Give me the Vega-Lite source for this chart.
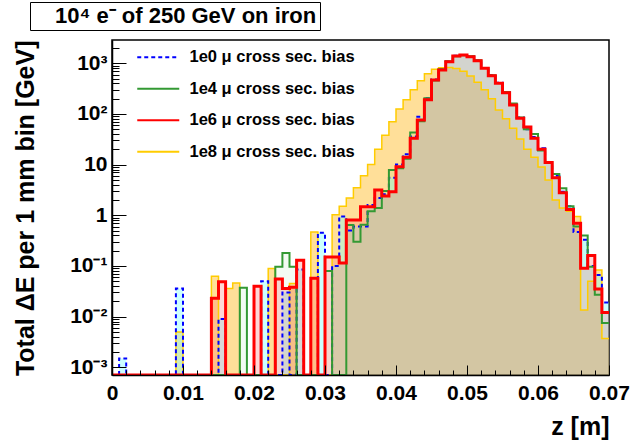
{
"$schema":"https://vega.github.io/schema/vega-lite/v6.json",
"width":497,"height":335,"autosize":"none",
"padding":{"left":112,"top":40,"right":31,"bottom":67},
"background":"white",
"config":{"view":{"stroke":"#000","strokeWidth":1.5},"font":"Liberation Sans"},
"datasets":{"h":[
{"s":"1e8","a":0,"b":0.001,"v":0.000705},{"s":"1e8","a":0.001,"b":0.002,"v":0.000705},{"s":"1e8","a":0.002,"b":0.003,"v":0.000705},{"s":"1e8","a":0.003,"b":0.004,"v":0.000705},{"s":"1e8","a":0.004,"b":0.005,"v":0.000705},{"s":"1e8","a":0.005,"b":0.006,"v":0.000705},{"s":"1e8","a":0.006,"b":0.007,"v":0.000705},{"s":"1e8","a":0.007,"b":0.008,"v":0.000705},{"s":"1e8","a":0.008,"b":0.009,"v":0.000705},{"s":"1e8","a":0.009,"b":0.01,"v":0.005},
{"s":"1e8","a":0.01,"b":0.011,"v":0.000705},{"s":"1e8","a":0.011,"b":0.012,"v":0.000705},{"s":"1e8","a":0.012,"b":0.013,"v":0.000705},{"s":"1e8","a":0.013,"b":0.014,"v":0.000705},{"s":"1e8","a":0.014,"b":0.015,"v":0.063},{"s":"1e8","a":0.015,"b":0.016,"v":0.000705},{"s":"1e8","a":0.016,"b":0.017,"v":0.036},{"s":"1e8","a":0.017,"b":0.018,"v":0.046},{"s":"1e8","a":0.018,"b":0.019,"v":0.000705},{"s":"1e8","a":0.019,"b":0.02,"v":0.000705},
{"s":"1e8","a":0.02,"b":0.021,"v":0.000705},{"s":"1e8","a":0.021,"b":0.022,"v":0.000705},{"s":"1e8","a":0.022,"b":0.023,"v":0.089},{"s":"1e8","a":0.023,"b":0.024,"v":0.000705},{"s":"1e8","a":0.024,"b":0.025,"v":0.000705},{"s":"1e8","a":0.025,"b":0.026,"v":0.045},{"s":"1e8","a":0.026,"b":0.027,"v":0.000705},{"s":"1e8","a":0.027,"b":0.028,"v":0.000705},{"s":"1e8","a":0.028,"b":0.029,"v":0.47},{"s":"1e8","a":0.029,"b":0.03,"v":0.000705},
{"s":"1e8","a":0.03,"b":0.031,"v":0.000705},{"s":"1e8","a":0.031,"b":0.032,"v":1.02},{"s":"1e8","a":0.032,"b":0.033,"v":1.5},{"s":"1e8","a":0.033,"b":0.034,"v":2.2},{"s":"1e8","a":0.034,"b":0.035,"v":3.5},{"s":"1e8","a":0.035,"b":0.036,"v":6},{"s":"1e8","a":0.036,"b":0.037,"v":10},{"s":"1e8","a":0.037,"b":0.038,"v":20},{"s":"1e8","a":0.038,"b":0.039,"v":38},{"s":"1e8","a":0.039,"b":0.04,"v":70},
{"s":"1e8","a":0.04,"b":0.041,"v":125},{"s":"1e8","a":0.041,"b":0.042,"v":190},{"s":"1e8","a":0.042,"b":0.043,"v":300},{"s":"1e8","a":0.043,"b":0.044,"v":450},{"s":"1e8","a":0.044,"b":0.045,"v":620},{"s":"1e8","a":0.045,"b":0.046,"v":760},{"s":"1e8","a":0.046,"b":0.047,"v":820},{"s":"1e8","a":0.047,"b":0.048,"v":830},{"s":"1e8","a":0.048,"b":0.049,"v":790},{"s":"1e8","a":0.049,"b":0.05,"v":700},
{"s":"1e8","a":0.05,"b":0.051,"v":560},{"s":"1e8","a":0.051,"b":0.052,"v":420},{"s":"1e8","a":0.052,"b":0.053,"v":300},{"s":"1e8","a":0.053,"b":0.054,"v":200},{"s":"1e8","a":0.054,"b":0.055,"v":120},{"s":"1e8","a":0.055,"b":0.056,"v":80},{"s":"1e8","a":0.056,"b":0.057,"v":52},{"s":"1e8","a":0.057,"b":0.058,"v":32},{"s":"1e8","a":0.058,"b":0.059,"v":20},{"s":"1e8","a":0.059,"b":0.06,"v":14},
{"s":"1e8","a":0.06,"b":0.061,"v":9},{"s":"1e8","a":0.061,"b":0.062,"v":5},{"s":"1e8","a":0.062,"b":0.063,"v":2},{"s":"1e8","a":0.063,"b":0.064,"v":1.4},{"s":"1e8","a":0.064,"b":0.065,"v":1.2},{"s":"1e8","a":0.065,"b":0.066,"v":0.95},{"s":"1e8","a":0.066,"b":0.067,"v":0.0135},{"s":"1e8","a":0.067,"b":0.068,"v":0.05},{"s":"1e8","a":0.068,"b":0.069,"v":0.083},{"s":"1e8","a":0.069,"b":0.07,"v":0.0037},

{"s":"1e0","a":0,"b":0.001,"v":0.000705},{"s":"1e0","a":0.001,"b":0.002,"v":0.0015},{"s":"1e0","a":0.002,"b":0.003,"v":0.000705},{"s":"1e0","a":0.003,"b":0.004,"v":0.000705},{"s":"1e0","a":0.004,"b":0.005,"v":0.000705},{"s":"1e0","a":0.005,"b":0.006,"v":0.000705},{"s":"1e0","a":0.006,"b":0.007,"v":0.000705},{"s":"1e0","a":0.007,"b":0.008,"v":0.000705},{"s":"1e0","a":0.008,"b":0.009,"v":0.000705},{"s":"1e0","a":0.009,"b":0.01,"v":0.036},
{"s":"1e0","a":0.01,"b":0.011,"v":0.000705},{"s":"1e0","a":0.011,"b":0.012,"v":0.000705},{"s":"1e0","a":0.012,"b":0.013,"v":0.000705},{"s":"1e0","a":0.013,"b":0.014,"v":0.000705},{"s":"1e0","a":0.014,"b":0.015,"v":0.000705},{"s":"1e0","a":0.015,"b":0.016,"v":0.009},{"s":"1e0","a":0.016,"b":0.017,"v":0.000705},{"s":"1e0","a":0.017,"b":0.018,"v":0.000705},{"s":"1e0","a":0.018,"b":0.019,"v":0.000705},{"s":"1e0","a":0.019,"b":0.02,"v":0.000705},
{"s":"1e0","a":0.02,"b":0.021,"v":0.000705},{"s":"1e0","a":0.021,"b":0.022,"v":0.05},{"s":"1e0","a":0.022,"b":0.023,"v":0.000705},{"s":"1e0","a":0.023,"b":0.024,"v":0.000705},{"s":"1e0","a":0.024,"b":0.025,"v":0.03},{"s":"1e0","a":0.025,"b":0.026,"v":0.000705},{"s":"1e0","a":0.026,"b":0.027,"v":0.085},{"s":"1e0","a":0.027,"b":0.028,"v":0.000705},{"s":"1e0","a":0.028,"b":0.029,"v":0.000705},{"s":"1e0","a":0.029,"b":0.03,"v":0.45},
{"s":"1e0","a":0.03,"b":0.031,"v":0.000705},{"s":"1e0","a":0.031,"b":0.032,"v":0.1},{"s":"1e0","a":0.032,"b":0.033,"v":0.95},{"s":"1e0","a":0.033,"b":0.034,"v":0.5},{"s":"1e0","a":0.034,"b":0.035,"v":0.6},{"s":"1e0","a":0.035,"b":0.036,"v":0.6},{"s":"1e0","a":0.036,"b":0.037,"v":1.6},{"s":"1e0","a":0.037,"b":0.038,"v":2.2},{"s":"1e0","a":0.038,"b":0.039,"v":2.6},{"s":"1e0","a":0.039,"b":0.04,"v":5.5},
{"s":"1e0","a":0.04,"b":0.041,"v":10},{"s":"1e0","a":0.041,"b":0.042,"v":16},{"s":"1e0","a":0.042,"b":0.043,"v":36},{"s":"1e0","a":0.043,"b":0.044,"v":88},{"s":"1e0","a":0.044,"b":0.045,"v":205},{"s":"1e0","a":0.045,"b":0.046,"v":480},{"s":"1e0","a":0.046,"b":0.047,"v":750},{"s":"1e0","a":0.047,"b":0.048,"v":1090},{"s":"1e0","a":0.048,"b":0.049,"v":1400},{"s":"1e0","a":0.049,"b":0.05,"v":1450},
{"s":"1e0","a":0.05,"b":0.051,"v":1360},{"s":"1e0","a":0.051,"b":0.052,"v":1130},{"s":"1e0","a":0.052,"b":0.053,"v":810},{"s":"1e0","a":0.053,"b":0.054,"v":585},{"s":"1e0","a":0.054,"b":0.055,"v":415},{"s":"1e0","a":0.055,"b":0.056,"v":270},{"s":"1e0","a":0.056,"b":0.057,"v":155},{"s":"1e0","a":0.057,"b":0.058,"v":85},{"s":"1e0","a":0.058,"b":0.059,"v":50},{"s":"1e0","a":0.059,"b":0.06,"v":35},
{"s":"1e0","a":0.06,"b":0.061,"v":21},{"s":"1e0","a":0.061,"b":0.062,"v":11},{"s":"1e0","a":0.062,"b":0.063,"v":6},{"s":"1e0","a":0.063,"b":0.064,"v":2.9},{"s":"1e0","a":0.064,"b":0.065,"v":1.5},{"s":"1e0","a":0.065,"b":0.066,"v":0.47},{"s":"1e0","a":0.066,"b":0.067,"v":0.33},{"s":"1e0","a":0.067,"b":0.068,"v":0.1},{"s":"1e0","a":0.068,"b":0.069,"v":0.066},{"s":"1e0","a":0.069,"b":0.07,"v":0.019},

{"s":"1e4","a":0,"b":0.001,"v":0.000705},{"s":"1e4","a":0.001,"b":0.002,"v":0.000705},{"s":"1e4","a":0.002,"b":0.003,"v":0.000705},{"s":"1e4","a":0.003,"b":0.004,"v":0.000705},{"s":"1e4","a":0.004,"b":0.005,"v":0.000705},{"s":"1e4","a":0.005,"b":0.006,"v":0.000705},{"s":"1e4","a":0.006,"b":0.007,"v":0.000705},{"s":"1e4","a":0.007,"b":0.008,"v":0.000705},{"s":"1e4","a":0.008,"b":0.009,"v":0.000705},{"s":"1e4","a":0.009,"b":0.01,"v":0.000705},
{"s":"1e4","a":0.01,"b":0.011,"v":0.000705},{"s":"1e4","a":0.011,"b":0.012,"v":0.000705},{"s":"1e4","a":0.012,"b":0.013,"v":0.000705},{"s":"1e4","a":0.013,"b":0.014,"v":0.000705},{"s":"1e4","a":0.014,"b":0.015,"v":0.000705},{"s":"1e4","a":0.015,"b":0.016,"v":0.000705},{"s":"1e4","a":0.016,"b":0.017,"v":0.000705},{"s":"1e4","a":0.017,"b":0.018,"v":0.000705},{"s":"1e4","a":0.018,"b":0.019,"v":0.037},{"s":"1e4","a":0.019,"b":0.02,"v":0.000705},
{"s":"1e4","a":0.02,"b":0.021,"v":0.000705},{"s":"1e4","a":0.021,"b":0.022,"v":0.000705},{"s":"1e4","a":0.022,"b":0.023,"v":0.000705},{"s":"1e4","a":0.023,"b":0.024,"v":0.097},{"s":"1e4","a":0.024,"b":0.025,"v":0.18},{"s":"1e4","a":0.025,"b":0.026,"v":0.097},{"s":"1e4","a":0.026,"b":0.027,"v":0.000705},{"s":"1e4","a":0.027,"b":0.028,"v":0.000705},{"s":"1e4","a":0.028,"b":0.029,"v":0.000705},{"s":"1e4","a":0.029,"b":0.03,"v":0.000705},
{"s":"1e4","a":0.03,"b":0.031,"v":0.08},{"s":"1e4","a":0.031,"b":0.032,"v":0.000705},{"s":"1e4","a":0.032,"b":0.033,"v":0.000705},{"s":"1e4","a":0.033,"b":0.034,"v":0.64},{"s":"1e4","a":0.034,"b":0.035,"v":0.3},{"s":"1e4","a":0.035,"b":0.036,"v":0.65},{"s":"1e4","a":0.036,"b":0.037,"v":1.2},{"s":"1e4","a":0.037,"b":0.038,"v":1.4},{"s":"1e4","a":0.038,"b":0.039,"v":3},{"s":"1e4","a":0.039,"b":0.04,"v":7.8},
{"s":"1e4","a":0.04,"b":0.041,"v":8.5},{"s":"1e4","a":0.041,"b":0.042,"v":13},{"s":"1e4","a":0.042,"b":0.043,"v":43},{"s":"1e4","a":0.043,"b":0.044,"v":72},{"s":"1e4","a":0.044,"b":0.045,"v":205},{"s":"1e4","a":0.045,"b":0.046,"v":455},{"s":"1e4","a":0.046,"b":0.047,"v":760},{"s":"1e4","a":0.047,"b":0.048,"v":1100},{"s":"1e4","a":0.048,"b":0.049,"v":1380},{"s":"1e4","a":0.049,"b":0.05,"v":1440},
{"s":"1e4","a":0.05,"b":0.051,"v":1380},{"s":"1e4","a":0.051,"b":0.052,"v":1150},{"s":"1e4","a":0.052,"b":0.053,"v":810},{"s":"1e4","a":0.053,"b":0.054,"v":580},{"s":"1e4","a":0.054,"b":0.055,"v":410},{"s":"1e4","a":0.055,"b":0.056,"v":270},{"s":"1e4","a":0.056,"b":0.057,"v":160},{"s":"1e4","a":0.057,"b":0.058,"v":85},{"s":"1e4","a":0.058,"b":0.059,"v":50},{"s":"1e4","a":0.059,"b":0.06,"v":40},
{"s":"1e4","a":0.06,"b":0.061,"v":19},{"s":"1e4","a":0.061,"b":0.062,"v":11},{"s":"1e4","a":0.062,"b":0.063,"v":6.5},{"s":"1e4","a":0.063,"b":0.064,"v":3.4},{"s":"1e4","a":0.064,"b":0.065,"v":1.5},{"s":"1e4","a":0.065,"b":0.066,"v":0.6},{"s":"1e4","a":0.066,"b":0.067,"v":0.4},{"s":"1e4","a":0.067,"b":0.068,"v":0.097},{"s":"1e4","a":0.068,"b":0.069,"v":0.027},{"s":"1e4","a":0.069,"b":0.07,"v":0.0075},

{"s":"1e6","a":0,"b":0.001,"v":0.000705},{"s":"1e6","a":0.001,"b":0.002,"v":0.000705},{"s":"1e6","a":0.002,"b":0.003,"v":0.000705},{"s":"1e6","a":0.003,"b":0.004,"v":0.000705},{"s":"1e6","a":0.004,"b":0.005,"v":0.000705},{"s":"1e6","a":0.005,"b":0.006,"v":0.000705},{"s":"1e6","a":0.006,"b":0.007,"v":0.000705},{"s":"1e6","a":0.007,"b":0.008,"v":0.000705},{"s":"1e6","a":0.008,"b":0.009,"v":0.000705},{"s":"1e6","a":0.009,"b":0.01,"v":0.000705},
{"s":"1e6","a":0.01,"b":0.011,"v":0.000705},{"s":"1e6","a":0.011,"b":0.012,"v":0.000705},{"s":"1e6","a":0.012,"b":0.013,"v":0.000705},{"s":"1e6","a":0.013,"b":0.014,"v":0.000705},{"s":"1e6","a":0.014,"b":0.015,"v":0.023},{"s":"1e6","a":0.015,"b":0.016,"v":0.049},{"s":"1e6","a":0.016,"b":0.017,"v":0.000705},{"s":"1e6","a":0.017,"b":0.018,"v":0.000705},{"s":"1e6","a":0.018,"b":0.019,"v":0.000705},{"s":"1e6","a":0.019,"b":0.02,"v":0.000705},
{"s":"1e6","a":0.02,"b":0.021,"v":0.04},{"s":"1e6","a":0.021,"b":0.022,"v":0.000705},{"s":"1e6","a":0.022,"b":0.023,"v":0.000705},{"s":"1e6","a":0.023,"b":0.024,"v":0.055},{"s":"1e6","a":0.024,"b":0.025,"v":0.036},{"s":"1e6","a":0.025,"b":0.026,"v":0.038},{"s":"1e6","a":0.026,"b":0.027,"v":0.13},{"s":"1e6","a":0.027,"b":0.028,"v":0.000705},{"s":"1e6","a":0.028,"b":0.029,"v":0.057},{"s":"1e6","a":0.029,"b":0.03,"v":0.000705},
{"s":"1e6","a":0.03,"b":0.031,"v":0.15},{"s":"1e6","a":0.031,"b":0.032,"v":0.15},{"s":"1e6","a":0.032,"b":0.033,"v":0.115},{"s":"1e6","a":0.033,"b":0.034,"v":0.81},{"s":"1e6","a":0.034,"b":0.035,"v":0.81},{"s":"1e6","a":0.035,"b":0.036,"v":1.47},{"s":"1e6","a":0.036,"b":0.037,"v":1.47},{"s":"1e6","a":0.037,"b":0.038,"v":3.15},{"s":"1e6","a":0.038,"b":0.039,"v":2.4},{"s":"1e6","a":0.039,"b":0.04,"v":2.9},
{"s":"1e6","a":0.04,"b":0.041,"v":9.1},{"s":"1e6","a":0.041,"b":0.042,"v":14},{"s":"1e6","a":0.042,"b":0.043,"v":33},{"s":"1e6","a":0.043,"b":0.044,"v":76},{"s":"1e6","a":0.044,"b":0.045,"v":190},{"s":"1e6","a":0.045,"b":0.046,"v":468},{"s":"1e6","a":0.046,"b":0.047,"v":737},{"s":"1e6","a":0.047,"b":0.048,"v":1070},{"s":"1e6","a":0.048,"b":0.049,"v":1393},{"s":"1e6","a":0.049,"b":0.05,"v":1458},
{"s":"1e6","a":0.05,"b":0.051,"v":1350},{"s":"1e6","a":0.051,"b":0.052,"v":1120},{"s":"1e6","a":0.052,"b":0.053,"v":796},{"s":"1e6","a":0.053,"b":0.054,"v":569},{"s":"1e6","a":0.054,"b":0.055,"v":403},{"s":"1e6","a":0.055,"b":0.056,"v":263},{"s":"1e6","a":0.056,"b":0.057,"v":150},{"s":"1e6","a":0.057,"b":0.058,"v":82},{"s":"1e6","a":0.058,"b":0.059,"v":55},{"s":"1e6","a":0.059,"b":0.06,"v":33},
{"s":"1e6","a":0.06,"b":0.061,"v":20},{"s":"1e6","a":0.061,"b":0.062,"v":11},{"s":"1e6","a":0.062,"b":0.063,"v":5.5},{"s":"1e6","a":0.063,"b":0.064,"v":2.8},{"s":"1e6","a":0.064,"b":0.065,"v":1.3},{"s":"1e6","a":0.065,"b":0.066,"v":0.7},{"s":"1e6","a":0.066,"b":0.067,"v":0.09},{"s":"1e6","a":0.067,"b":0.068,"v":0.16},{"s":"1e6","a":0.068,"b":0.069,"v":0.035},{"s":"1e6","a":0.069,"b":0.07,"v":0.012}
],
"lg":[{"s":"1e0"},{"s":"1e4"},{"s":"1e6"},{"s":"1e8"}],
"t":[{"t":"10⁴ e⁻ of 250 GeV on iron"}]},
"data":{"name":"h"},
"layer":[
{
"transform":[{"filter":"datum.s == '1e8'"},{"fold":["a","b"],"as":["k","x"]}],
"mark":{"type":"area","interpolate":"linear","clip":true,"fill":"#ffb000","fillOpacity":0.4},
"encoding":{
"x":{"field":"x","type":"quantitative","scale":{"domain":[0,0.07],"nice":false,"zero":false},
"axis":{"orient":"bottom","values":[0,0.01,0.02,0.03,0.04,0.05,0.06,0.07],"tickSize":-10,"labelPadding":17,"labelBaseline":"top","labelExpr":"datum.value == 0 ? '0' : format(datum.value, '.2f')","labelFont":"Liberation Sans","labelFontSize":21,"labelFontWeight":"bold","labelColor":"#000","labelFlush":false,"labelOverlap":false,"labelBound":false,"tickColor":"#000","tickWidth":1,"domain":true,"domainColor":"#000","domainWidth":1.5,"grid":false,"zindex":1,"title":"z [m]","titleFont":"Liberation Sans","titleFontSize":25,"titleFontWeight":"bold","titleColor":"#000","titleX":497,"titleY":59,"titleAlign":"right","titleBaseline":"alphabetic","titleAngle":0}},
"y":{"field":"v","type":"quantitative","scale":{"type":"log","domain":[0.000705,2880],"nice":false},
"axis":{"orient":"left","values":[0.001,0.01,0.1,1,10,100,1000],"tickSize":-14,"labelPadding":19,"labelExpr":"datum.value >= 999 ? '10³' : datum.value >= 99 ? '10²' : datum.value >= 9 ? '10' : datum.value >= 0.9 ? '1' : datum.value >= 0.09 ? '10⁻¹' : datum.value >= 0.009 ? '10⁻²' : '10⁻³'","labelFont":"Liberation Sans","labelFontSize":21,"labelFontWeight":"bold","labelColor":"#000","labelOverlap":false,"labelBound":false,"tickColor":"#000","tickWidth":1,"domain":true,"domainColor":"#000","domainWidth":1.5,"grid":false,"zindex":1,"title":"Total ΔE per 1 mm bin [GeV]","titleFont":"Liberation Sans","titleFontSize":25,"titleFontWeight":"bold","titleColor":"#000","titleX":-79,"titleY":0,"titleAngle":-90,"titleAlign":"right","titleBaseline":"alphabetic"}},
"y2":{"datum":0.000705}
}
},
{
"transform":[{"filter":"datum.s == '1e0'"},{"fold":["a","b"],"as":["k","x"]}],
"mark":{"type":"area","interpolate":"linear","clip":true,"fill":"#80ffff","fillOpacity":0.4},
"encoding":{"x":{"field":"x","type":"quantitative","axis":null},"y":{"field":"v","type":"quantitative","axis":null},"y2":{"datum":0.000705}}
},
{
"transform":[{"filter":"datum.s == '1e4'"},{"fold":["a","b"],"as":["k","x"]}],
"mark":{"type":"area","interpolate":"linear","clip":true,"fill":"#66cc66","fillOpacity":0.08},
"encoding":{"x":{"field":"x","type":"quantitative","axis":null},"y":{"field":"v","type":"quantitative","axis":null},"y2":{"datum":0.000705}}
},
{
"transform":[{"filter":"datum.s == '1e6'"},{"fold":["a","b"],"as":["k","x"]}],
"mark":{"type":"area","interpolate":"linear","clip":true,"fill":"#ff6060","fillOpacity":0.25},
"encoding":{"x":{"field":"x","type":"quantitative","axis":null},"y":{"field":"v","type":"quantitative","axis":null},"y2":{"datum":0.000705}}
},
{
"transform":[{"filter":"datum.s == '1e8'"},{"fold":["a","b"],"as":["k","x"]}],
"mark":{"type":"line","interpolate":"linear","clip":true,"strokeWidth":1.5,"stroke":"#ffcc00"},
"encoding":{
"x":{"field":"x","type":"quantitative","axis":{"orient":"bottom","values":[0.002,0.004,0.006,0.008,0.012,0.014,0.016,0.018,0.022,0.024,0.026,0.028,0.032,0.034,0.036,0.038,0.042,0.044,0.046,0.048,0.052,0.054,0.056,0.058,0.062,0.064,0.066,0.068],"tickSize":-5,"labels":false,"domain":false,"grid":false,"title":null,"tickColor":"#000","tickWidth":1,"zindex":1}},
"y":{"field":"v","type":"quantitative","axis":{"orient":"left","values":[0.002,0.003,0.004,0.005,0.006,0.007,0.008,0.009,0.02,0.03,0.04,0.05,0.06,0.07,0.08,0.09,0.2,0.3,0.4,0.5,0.6,0.7,0.8,0.9,2,3,4,5,6,7,8,9,20,30,40,50,60,70,80,90,200,300,400,500,600,700,800,900,2000],"tickSize":-7,"labels":false,"domain":false,"grid":false,"title":null,"tickColor":"#000","tickWidth":1,"zindex":1}},
"order":[{"field":"x","type":"quantitative","sort":"ascending"},{"field":"k","type":"nominal","sort":"descending"}]
}
},
{
"transform":[{"filter":"datum.s == '1e0'"},{"fold":["a","b"],"as":["k","x"]}],
"mark":{"type":"line","interpolate":"linear","clip":true,"strokeWidth":2,"strokeDash":[4,3],"stroke":"#0000ff"},
"encoding":{"x":{"field":"x","type":"quantitative","axis":null},"y":{"field":"v","type":"quantitative","axis":null},
"order":[{"field":"x","type":"quantitative","sort":"ascending"},{"field":"k","type":"nominal","sort":"descending"}]}
},
{
"transform":[{"filter":"datum.s == '1e4'"},{"fold":["a","b"],"as":["k","x"]}],
"mark":{"type":"line","interpolate":"linear","clip":true,"strokeWidth":2,"stroke":"#339933"},
"encoding":{"x":{"field":"x","type":"quantitative","axis":null},"y":{"field":"v","type":"quantitative","axis":null},
"order":[{"field":"x","type":"quantitative","sort":"ascending"},{"field":"k","type":"nominal","sort":"descending"}]}
},
{
"transform":[{"filter":"datum.s == '1e6'"},{"fold":["a","b"],"as":["k","x"]}],
"mark":{"type":"line","interpolate":"linear","clip":true,"strokeWidth":3,"stroke":"#ff0000"},
"encoding":{"x":{"field":"x","type":"quantitative","axis":null},"y":{"field":"v","type":"quantitative","axis":null},
"order":[{"field":"x","type":"quantitative","sort":"ascending"},{"field":"k","type":"nominal","sort":"descending"}]}
},
{
"data":{"name":"lg"},
"mark":{"type":"point","opacity":0,"filled":false},
"encoding":{
"stroke":{"field":"s","type":"nominal","scale":{"domain":["1e0","1e4","1e6","1e8"],"range":["#0000ff","#339933","#ff0000","#ffcc00"]},
"legend":{"orient":"none","legendX":38,"legendY":9,"title":null,"symbolSize":196,"symbolStrokeWidth":2,"symbolOpacity":1,"symbolFillColor":"transparent","labelFont":"Liberation Sans","labelFontSize":16.5,"labelFontWeight":"bold","labelColor":"#000","labelOffset":23,"rowPadding":14.5,"padding":0,"labelLimit":0,"labelExpr":"datum.label + ' μ cross sec. bias'"}},
"shape":{"field":"s","type":"nominal","scale":{"domain":["1e0","1e4","1e6","1e8"],"range":["M-3,0H-2.43M-2,0H-1.43M-1,0H-0.43M0,0H0.57M1,0H1.57M2,0H2.57","M-3,0H3","M-3,0H3","M-3,0H3"]},
"legend":{"orient":"none","legendX":38,"legendY":9,"title":null,"symbolSize":196,"symbolStrokeWidth":2,"symbolOpacity":1,"symbolFillColor":"transparent","labelFont":"Liberation Sans","labelFontSize":16.5,"labelFontWeight":"bold","labelColor":"#000","labelOffset":23,"rowPadding":14.5,"padding":0,"labelLimit":0,"labelExpr":"datum.label + ' μ cross sec. bias'"}}
}
},
{
"data":{"name":"t"},
"mark":{"type":"point","opacity":0},
"encoding":{
"fill":{"field":"t","type":"nominal","legend":{"orient":"none","legendX":-82,"legendY":-38,"title":null,"symbolSize":0,"symbolOpacity":0,"labelFont":"Liberation Sans","labelFontSize":22,"labelFontWeight":"bold","labelColor":"#000","labelOffset":0,"padding":3,"strokeColor":"#000","fillColor":"#fff","labelLimit":0}}
}
}
],
"resolve":{"axis":{"x":"independent","y":"independent"}}
}
